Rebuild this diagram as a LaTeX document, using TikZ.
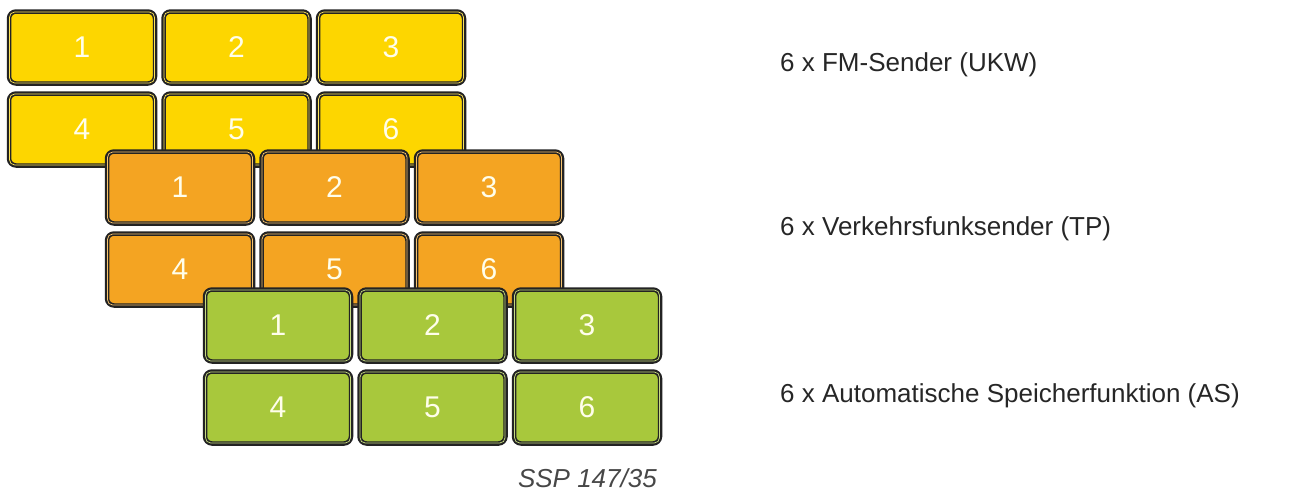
\documentclass[tikz,border=0pt]{standalone}
\usepackage{fontspec}
\setmainfont{Liberation Sans}
\definecolor{ykey}{HTML}{FDD600}
\definecolor{okey}{HTML}{F4A422}
\definecolor{gkey}{HTML}{A8C83C}
\definecolor{keyline}{HTML}{232323}
\definecolor{txt}{HTML}{262626}
\tikzset{
  keybox/.style={rectangle, rounded corners=7pt, draw=keyline, line width=4.5pt,
    minimum width=146pt, minimum height=72pt, inner sep=0pt,
    text=white!92!yellow, font=\fontsize{30}{32}\selectfont},
  innerline/.style={line width=0.7pt, rounded corners=5pt},
  label/.style={anchor=base west, text=txt, font=\fontsize{26}{30}\selectfont, inner sep=0pt},
  credit/.style={anchor=base east, text=txt!85!white, font=\fontsize{26}{30}\selectfont\itshape, inner sep=0pt}
}
\newcommand\keybox[5]{%
  \node[keybox, fill=#4] (#1) at (#2,#3) {#5};
  \draw[innerline, draw=#4!65!white] ([shift={(2.8pt,-2.8pt)}]#1.north west) rectangle ([shift={(-2.8pt,2.8pt)}]#1.south east);
}
\newcommand\keylayer[4]{% prefix, x, y, colour
  \keybox{#1a}{#2}{#3}{#4}{1}
  \keybox{#1b}{#2+154.5}{#3}{#4}{2}
  \keybox{#1c}{#2+309}{#3}{#4}{3}
  \keybox{#1d}{#2}{#3-82}{#4}{4}
  \keybox{#1e}{#2+154.5}{#3-82}{#4}{5}
  \keybox{#1f}{#2+309}{#3-82}{#4}{6}
}
\begin{document}
\begin{tikzpicture}[x=1pt,y=1pt]
\useasboundingbox (0,0) rectangle (1315,-490);
\keylayer{y}{82}{-47.5}{ykey}
\keylayer{o}{180}{-187.5}{okey}
\keylayer{g}{278}{-325.5}{gkey}
\node[label] (l1) at (780,-71) {6 x FM-Sender (UKW)};
\node[label] (l2) at (780,-235) {6 x Verkehrsfunksender (TP)};
\node[label] (l3) at (780,-402) {6 x Automatische Speicherfunktion (AS)};
\node[credit] (ssp) at (657,-487) {SSP 147/35};
\end{tikzpicture}
\end{document}
